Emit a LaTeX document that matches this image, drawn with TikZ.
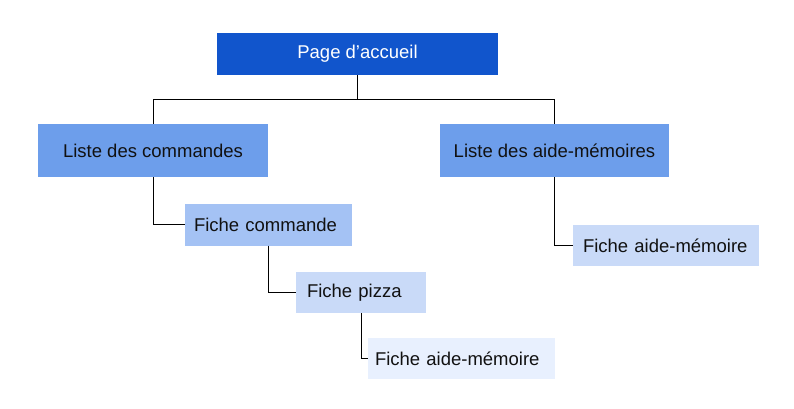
\documentclass[tikz,border=0pt]{standalone}
\usepackage{fontspec}
\setmainfont{Liberation Sans}
\definecolor{c0}{HTML}{1155CC}
\definecolor{c1}{HTML}{6D9EEB}
\definecolor{c2}{HTML}{A4C2F4}
\definecolor{c3}{HTML}{C9DAF8}
\definecolor{c4}{HTML}{E8F0FE}
\definecolor{txt}{HTML}{111111}
\begin{document}
\begin{tikzpicture}[x=1pt,y=-1pt,
  box/.style={inner sep=0pt, text=txt, font=\fontsize{18.5}{22}\selectfont},
  leftbox/.style 2 args={box, inner xsep=#2, text width=#1-2*#2, align=left},
  link/.style={draw=black, line width=1pt}]
\useasboundingbox[fill=white] (0,0) rectangle (794,408);
\node[box, fill=c0, text=white, minimum width=281pt, minimum height=42pt] (page) at (357.5,54) {Page d’accueil};
\node[box, fill=c1, minimum width=230pt, minimum height=53pt] (lc) at (153,150.5) {Liste des commandes};
\node[box, fill=c1, minimum width=229pt, minimum height=53pt] (la) at (554.5,150.5) {Liste des aide-mémoires};
\node[leftbox={167pt}{9pt}, fill=c2, minimum height=42pt] (fc) at (268.5,224.5) {Fiche commande};
\node[leftbox={130pt}{11pt}, fill=c3, minimum height=41pt] (fp) at (361,292.5) {Fiche pizza};
\node[leftbox={187pt}{7pt}, fill=c4, minimum height=41pt] (fm) at (461.5,358.5) {Fiche aide-mémoire};
\node[leftbox={186pt}{10pt}, fill=c3, minimum height=41pt] (fr) at (666,245.5) {Fiche aide-mémoire};
\coordinate (hub) at (357.5,99);
\draw[link] (page.south) -- (hub) -| (lc.north);
\draw[link] (hub) -| (la.north);
\draw[link] (lc.south) |- (fc.west);
\draw[link] (fc.south) |- (fp.west);
\draw[link] (fp.south) |- (fm.west);
\draw[link] (la.south) |- (fr.west);
\end{tikzpicture}
\end{document}
